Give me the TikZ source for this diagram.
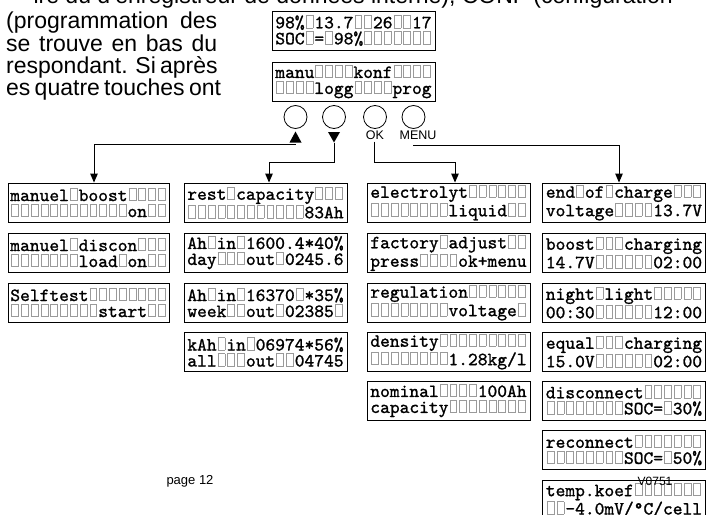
\documentclass[tikz,border=0pt]{standalone}
\usepackage{fontspec}
\newfontfamily\arial{Liberation Sans}
\newfontfamily\lcdtt{lmmono10-regular.otf}[FakeBold=1.2]
\usetikzlibrary{arrows.meta}
\definecolor{sqgray}{HTML}{9A9A9A}
\newlength\lcdw \setlength\lcdw{9.765pt}
\newcommand\lcdsq{\makebox[\lcdw]{\raisebox{0.7pt}{\color{sqgray}\setlength\fboxsep{0pt}\setlength\fboxrule{0.7pt}\fbox{\rule{0pt}{11.8pt}\rule{6.2pt}{0pt}}}}}
\makeatletter
\def\lcd@us{_}
\newcommand\lcdrow[1]{\@tfor\lcd@t:=#1\do{\ifx\lcd@t\lcd@us\lcdsq\else\makebox[\lcdw]{\lcd@t}\fi}}
\makeatother
\newcommand\lcdfont{\lcdtt\fontsize{18.6pt}{16pt}\selectfont}
\newcommand\jline[1]{\makebox[211pt][s]{#1}}
\tikzset{
  lcd/.style={draw, line width=0.9pt, minimum width=163pt, minimum height=39pt,
    inner xsep=0pt, inner ysep=0pt, text width=156.3pt, align=left, font=\lcdfont},
  lcdn/.style={lcd, minimum width=161pt},
  btn/.style={draw, circle, line width=0.8pt, minimum size=23pt, inner sep=0pt},
  lbl/.style={inner sep=0pt, font=\arial\fontsize{12.5pt}{14pt}\selectfont},
  para/.style={inner sep=0pt, anchor=base west, font=\arial\fontsize{23pt}{23pt}\selectfont},
  conn/.style={line width=1pt, -{Triangle[length=9pt,width=7.5pt]}},
}
\begin{document}
\begin{tikzpicture}[x=1pt,y=-1pt]
\useasboundingbox (0,0) rectangle (706,514);
\clip (0,0) rectangle (706,514);
% paragraph fragments
\node[para, anchor=base east] (p0) at (673,3.5) {ire du d’enregistreur de données interne), CONF (configuration};
\node[para] (p1) at (6,28) {\jline{(programmation des}};
\node[para] (p2) at (6,51) {\jline{se trouve en bas du}};
\node[para] (p3) at (6,73) {\jline{respondant. Si après}};
\node[para] (p4) at (6,95) {\jline{es quatre touches ont}};
% top displays
\node[lcd] (d1) at (353.5,30.5) {\lcdrow{98\%_13.7__26__17}\\\lcdrow{SOC_=_98\%_______}};
\node[lcd] (d2) at (353.5,81.5) {\lcdrow{manu____konf____}\\\lcdrow{____logg____prog}};
% buttons
\node[btn] (k1) at (295.5,117) {};
\node[btn] (k2) at (334,117) {};
\node[btn] (k3) at (375,117) {};
\node[btn] (k4) at (413.5,117) {};
\fill (295.5,131.5) -- (301.5,142.5) -- (289.5,142.5) -- cycle;
\fill (328,132) -- (340,132) -- (334,142.5) -- cycle;
\node[lbl] (ok) at (375,135.5) {OK};
\node[lbl] (menu) at (418,135.5) {MENU};
% column 1
\node[lcdn] (c1a) at (88.5,202.5) {\lcdrow{manuel_boost____}\\\lcdrow{____________on__}};
\node[lcdn] (c1b) at (88.5,252.5) {\lcdrow{manuel_discon___}\\\lcdrow{_______load_on__}};
\node[lcdn] (c1c) at (88.5,302.5) {\lcdrow{Selftest________}\\\lcdrow{_________start__}};
% column 2
\node[lcd] (c2a) at (265.5,202.5) {\lcdrow{rest_capacity___}\\\lcdrow{____________83Ah}};
\node[lcd] (c2b) at (265.5,252.5) {\lcdrow{Ah_in_1600.4*40\%}\\\lcdrow{day___out_0245.6}};
\node[lcd] (c2c) at (265.5,302.5) {\lcdrow{Ah_in_16370_*35\%}\\\lcdrow{week__out_02385_}};
\node[lcd] (c2d) at (265.5,352) {\lcdrow{kAh_in_06974*56\%}\\\lcdrow{all___out__04745}};
% column 3
\node[lcd] (c3a) at (448.5,202.5) {\lcdrow{electrolyt______}\\\lcdrow{________liquid__}};
\node[lcd] (c3b) at (448.5,253) {\lcdrow{factory_adjust__}\\\lcdrow{press____ok+menu}};
\node[lcd] (c3c) at (448.5,302.5) {\lcdrow{regulation______}\\\lcdrow{________voltage_}};
\node[lcd] (c3d) at (448.5,351.5) {\lcdrow{density_________}\\\lcdrow{________1.28kg/l}};
\node[lcd] (c3e) at (448.5,400.5) {\lcdrow{nominal____100Ah}\\\lcdrow{capacity________}};
% column 4
\node[lcd] (c4a) at (624,202.5) {\lcdrow{end_of_charge___}\\\lcdrow{voltage____13.7V}};
\node[lcd] (c4b) at (624,252.5) {\lcdrow{boost___charging}\\\lcdrow{14.7V______02:00}};
\node[lcd] (c4c) at (624,302.5) {\lcdrow{night_light_____}\\\lcdrow{00:30______12:00}};
\node[lcd] (c4d) at (624,351.5) {\lcdrow{equal___charging}\\\lcdrow{15.0V______02:00}};
\node[lcd] (c4e) at (624,400.5) {\lcdrow{disconnect______}\\\lcdrow{________SOC=_30\%}};
\node[lcd] (c4f) at (624,450) {\lcdrow{reconnect_______}\\\lcdrow{________SOC=_50\%}};
\node[lcd] (c4g) at (624,499.5) {\lcdrow{temp.koef_______}\\\lcdrow{__-4.0mV/°C/cell}};
% free labels
\node[lbl, font=\arial\fontsize{13pt}{15pt}\selectfont] (pg) at (190,481) {page 12};
\node[lbl, font=\arial\fontsize{12pt}{14pt}\selectfont] (ver) at (655,481) {V0751};
% connectors
\coordinate (a1) at (295.5,144.5);
\coordinate (a2) at (334,142.5);
\coordinate (a2b) at (334,162);
\coordinate (a3) at (374,141.5);
\coordinate (a3b) at (374,162);
\coordinate (a4) at (413,145);
\draw[conn] (a1) -| ([xshift=5.5pt]c1a.north);
\draw[conn] (a2) -- (a2b) -| ([xshift=3.5pt]c2a.north);
\draw[conn] (a3) -- (a3b) -| ([xshift=6.5pt]c3a.north);
\draw[conn] (a4) -| ([xshift=-5pt]c4a.north);
\end{tikzpicture}
\end{document}
